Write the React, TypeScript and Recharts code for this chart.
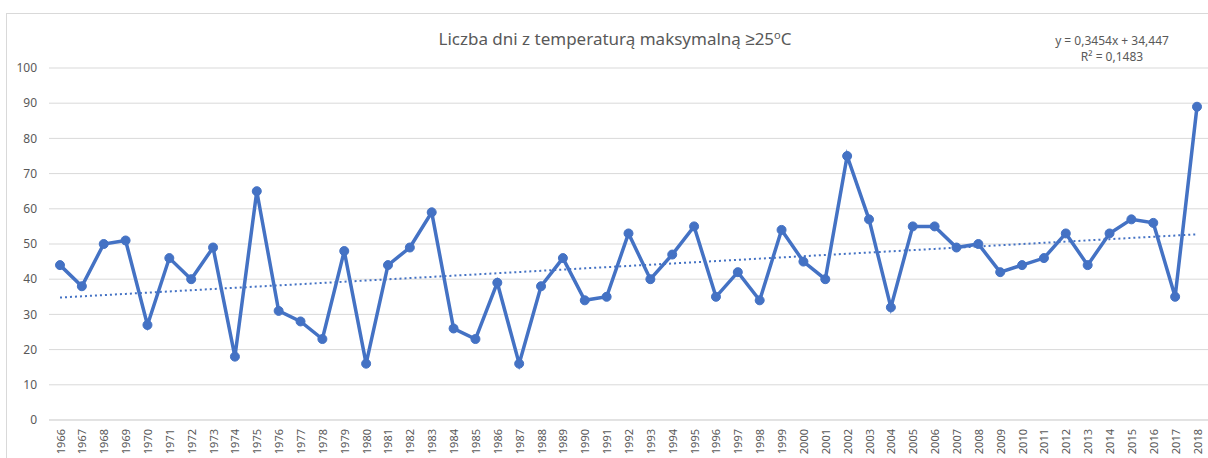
import { LineChart, Line, XAxis, YAxis, CartesianGrid } from "recharts";

const YEARS = [
  "1966", "1967", "1968", "1969", "1970", "1971", "1972", "1973", "1974", "1975",
  "1976", "1977", "1978", "1979", "1980", "1981", "1982", "1983", "1984", "1985",
  "1986", "1987", "1988", "1989", "1990", "1991", "1992", "1993", "1994", "1995",
  "1996", "1997", "1998", "1999", "2000", "2001", "2002", "2003", "2004", "2005",
  "2006", "2007", "2008", "2009", "2010", "2011", "2012", "2013", "2014", "2015",
  "2016", "2017", "2018",
];

const DAYS = [
  44, 38, 50, 51, 27, 46, 40, 49, 18, 65,
  31, 28, 23, 48, 16, 44, 49, 59, 26, 23,
  39, 16, 38, 46, 34, 35, 53, 40, 47, 55,
  35, 42, 34, 54, 45, 40, 75, 57, 32, 55,
  55, 49, 50, 42, 44, 46, 53, 44, 53, 57,
  56, 35, 89,
];

// trend equation as printed on the chart
const SLOPE = 0.3454;
const INTERCEPT = 34.447;

const Y_TICKS = [0, 10, 20, 30, 40, 50, 60, 70, 80, 90, 100];

const data = YEARS.map((year, i) => ({
  year,
  days: DAYS[i],
  trend: SLOPE * (i + 1) + INTERCEPT,
}));

const BLUE = "#4472C4";
const TEXT = "#595959";
const FONT = "'Noto Sans', sans-serif";

const YearTick = ({ x, y, payload }: any) => (
  <text
    x={x}
    y={y + 1}
    transform={`rotate(-90, ${x}, ${y + 1})`}
    textAnchor="end"
    dominantBaseline="central"
    fill={TEXT}
    fontSize={11}
    fontFamily={FONT}
  >
    {payload.value}
  </text>
);

const App = () => {
  return (
    <div style={{ position: "absolute", left: 0, top: 0, width: 1208, height: 458, background: "#fff", fontFamily: FONT, overflow: "hidden" }}>
      <div
        style={{
          position: "absolute",
          left: 6,
          top: 13,
          width: 1210,
          height: 460,
          border: "1px solid #d9d9d9",
        }}
      />
      <div
        style={{
          position: "absolute",
          left: 0,
          width: 1230,
          top: 27,
          textAlign: "center",
          fontSize: 17,
          color: TEXT,
        }}
      >
        Liczba dni z temperaturą maksymalną ≥25<sup style={{ fontSize: 11, verticalAlign: "6px" }}>o</sup>C
      </div>
      <div
        style={{
          position: "absolute",
          left: 1012,
          width: 200,
          top: 33,
          textAlign: "center",
          fontSize: 12,
          lineHeight: "16px",
          color: TEXT,
        }}
      >
        <div>y = 0,3454x + 34,447</div>
        <div>R² = 0,1483</div>
      </div>
      <div style={{ position: "absolute", left: 0, top: 0 }}>
        <LineChart width={1208} height={458} data={data} margin={{ top: 68, right: 0, bottom: 0, left: 0 }}>
          <CartesianGrid vertical={false} stroke="#d9d9d9" />
          <XAxis
            dataKey="year"
            interval={0}
            height={38}
            padding={{ left: 11, right: 11 }}
            axisLine={{ stroke: "#d9d9d9" }}
            tickLine={false}
            tick={<YearTick />}
          />
          <YAxis
            width={49}
            domain={[0, 100]}
            ticks={Y_TICKS}
            axisLine={false}
            tickLine={false}
            tickSize={0}
            tickMargin={12}
            tick={{ fill: TEXT, fontSize: 12, fontFamily: FONT }}
          />
          <Line
            dataKey="trend"
            stroke={BLUE}
            strokeWidth={2}
            strokeDasharray="2 3"
            dot={false}
            activeDot={false}
            isAnimationActive={false}
          />
          <Line
            dataKey="days"
            stroke={BLUE}
            strokeWidth={3.5}
            dot={{ r: 4.5, fill: BLUE, stroke: BLUE, strokeWidth: 1 }}
            isAnimationActive={false}
          />
        </LineChart>
      </div>
    </div>
  );
};

export default App;
